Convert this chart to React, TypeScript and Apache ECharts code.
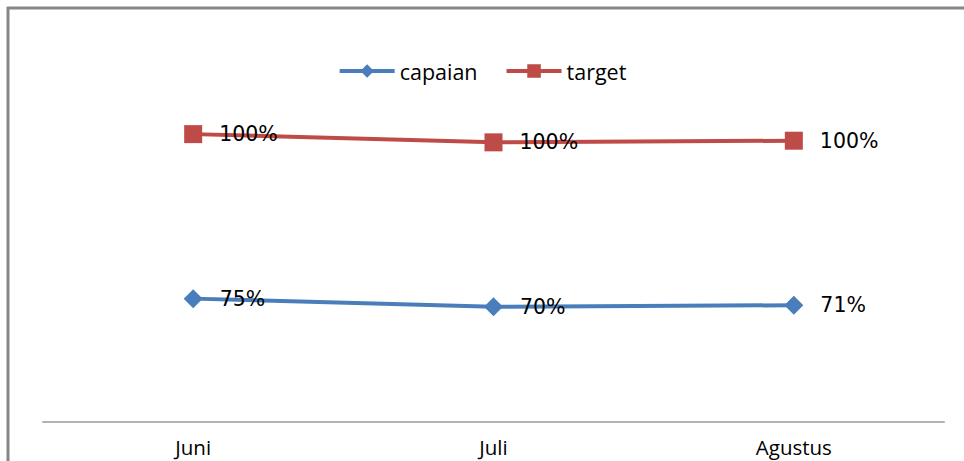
import React, { useEffect, useRef } from "react";
import * as echarts from "echarts";

const categories = ["Juni", "Juli", "Agustus"];
const capaian = [0.75, 0.7, 0.71];
const target = [1, 1, 1];
const seriesNames = ["capaian", "target"];

export default function App() {
  const ref = useRef<HTMLDivElement>(null);
  useEffect(() => {
    if (!ref.current) return;
    const chart = echarts.init(ref.current, null, { renderer: "svg" });
    const pct = (p: any) => Math.round(p.value * 100) + "%";
    const labelStyle = {
      show: true,
      position: "right" as const,
      distance: 17,
      formatter: pct,
      color: "#000",
      fontFamily: "DejaVu Sans",
      fontSize: 20.5,
    };
    chart.setOption({
      animation: false,
      backgroundColor: "#fff",
      graphic: [
        { type: "line", shape: { x1: 8, y1: 7, x2: 8, y2: 461 }, style: { stroke: "#878787", lineWidth: 3 } },
        { type: "line", shape: { x1: 7, y1: 8, x2: 964, y2: 8 }, style: { stroke: "#878787", lineWidth: 3 } },
      ],
      legend: {
        top: 55,
        left: "center",
        itemWidth: 55,
        itemHeight: 17,
        itemGap: 27,
        lineStyle: { width: 4 },
        textStyle: { fontFamily: "Open Sans", fontSize: 21.5, color: "#000" },
        data: seriesNames,
      },
      grid: { left: 43, right: 20, top: 93, bottom: 39 },
      xAxis: {
        type: "category",
        data: categories,
        boundaryGap: true,
        axisLine: { lineStyle: { color: "#b3b3b3", width: 2 } },
        axisTick: { show: false },
        axisLabel: { margin: 15, color: "#000", fontFamily: "Open Sans", fontSize: 20.5, lineHeight: 20 },
      },
      yAxis: {
        type: "value",
        min: 0,
        max: 2,
        show: false,
        splitLine: { show: false },
      },
      series: [
        {
          name: seriesNames[0],
          type: "line",
          stack: "total",
          data: capaian,
          symbol: "diamond",
          symbolSize: 19,
          color: "#4A7EBB",
          lineStyle: { width: 4, color: "#4A7EBB" },
          itemStyle: { color: "#4A7EBB" },
          label: labelStyle,
        },
        {
          name: seriesNames[1],
          type: "line",
          stack: "total",
          data: target,
          symbol: "rect",
          symbolSize: 18,
          color: "#BE4B48",
          lineStyle: { width: 4, color: "#BE4B48" },
          itemStyle: { color: "#BE4B48" },
          label: labelStyle,
        },
      ],
    });
    return () => chart.dispose();
  }, []);
  return (
    <div
      ref={ref}
      style={{ position: "fixed", left: 0, top: 0, width: 964, height: 461 }}
    />
  );
}
